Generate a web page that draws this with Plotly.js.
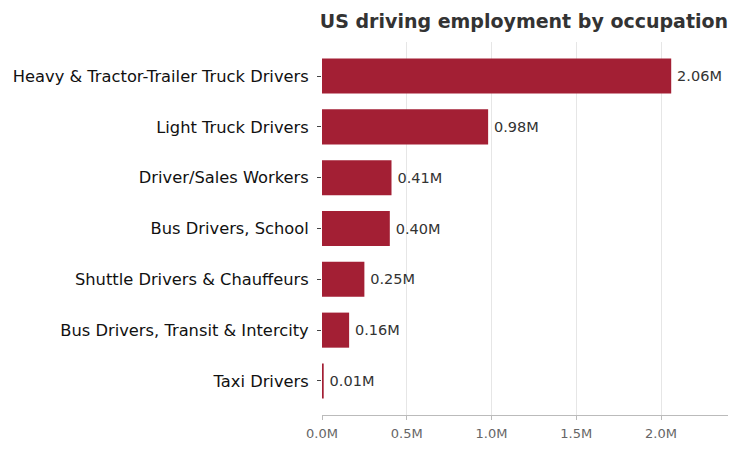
<!DOCTYPE html>
<html>
<head>
<meta charset="utf-8">
<script src="https://cdn.plot.ly/plotly-3.0.1.min.js"></script>
<style>
  html, body { margin: 0; padding: 0; background: #fff; }
  #chart { width: 742px; height: 455px; }
</style>
</head>
<body>
<div id="chart"></div>
<script>
// Employment by occupation, millions of workers
const occupations = [
  'Heavy & Tractor-Trailer Truck Drivers',
  'Light Truck Drivers',
  'Driver/Sales Workers',
  'Bus Drivers, School',
  'Shuttle Drivers & Chauffeurs',
  'Bus Drivers, Transit & Intercity',
  'Taxi Drivers'
];
const employment = [2.06, 0.98, 0.41, 0.40, 0.25, 0.16, 0.01];

const COLORS = {
  bar: '#a31f34',
  grid: '#e6e6e6',
  axis: '#bbbbbb',
  tick: '#666666',
  text: '#333333',
};

const FONT = 'DejaVu Sans, sans-serif';

const trace = {
  type: 'bar',
  orientation: 'h',
  x: employment,
  y: occupations,
  width: 0.69,
  marker: { color: COLORS.bar },
  texttemplate: '\u2009%{x:.2f}M',
  textposition: 'outside',
  textfont: { family: FONT, size: 14.5, color: COLORS.text },
  cliponaxis: false,
  hoverinfo: 'x+y',
};

const layout = {
  width: 742,
  height: 455,
  margin: { l: 322, r: 14, t: 42, b: 40 },
  paper_bgcolor: '#fff',
  plot_bgcolor: '#fff',
  showlegend: false,
  title: {
    text: '<b>US driving employment by occupation</b>',
    font: { family: FONT, size: 19, color: COLORS.text },
    xref: 'container',
    x: 0.431,
    xanchor: 'left',
    yref: 'container',
    y: 0.952,
    yanchor: 'middle',
  },
  xaxis: {
    range: [0, 2.395],
    dtick: 0.5,
    tickformat: '.1f',
    ticksuffix: 'M',
    showgrid: true,
    gridcolor: COLORS.grid,
    gridwidth: 1,
    zeroline: false,
    showline: true,
    linecolor: COLORS.axis,
    linewidth: 1,
    ticks: 'outside',
    ticklen: 4,
    tickcolor: COLORS.axis,
    ticklabelstandoff: 2,
    tickfont: { family: FONT, size: 13, color: COLORS.tick },
  },
  yaxis: {
    type: 'category',
    range: [6.67, -0.67],
    showgrid: false,
    zeroline: false,
    showline: false,
    ticks: 'outside',
    ticklen: 4,
    tickcolor: '#444',
    ticklabelstandoff: 5,
    tickfont: { family: FONT, size: 16.3, color: '#111' },
  },
};

Plotly.newPlot('chart', [trace], layout, { displayModeBar: false, staticPlot: true });
</script>
</body>
</html>
